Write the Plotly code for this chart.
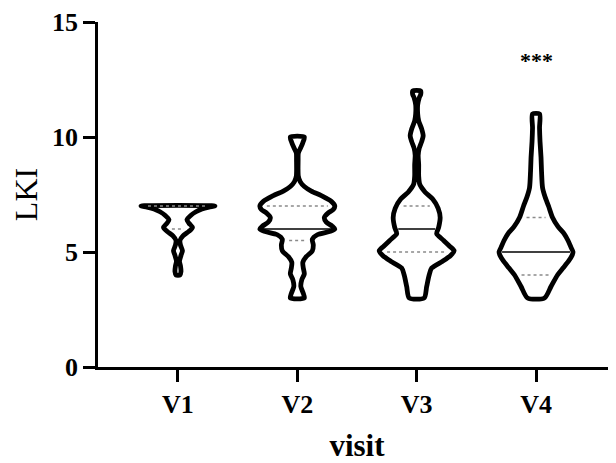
import numpy as np
import plotly.graph_objects as go

# ---------------- data ----------------
visits = ["V1", "V2", "V3", "V4"]

# violin outlines: LKI level and relative density (half-width)
v1_levels = [4.0, 4.15, 4.4, 4.6, 4.85, 5.05, 5.3, 5.5, 5.7, 5.9, 6.07, 6.25, 6.4, 6.6, 6.75, 6.87, 6.95, 7.0]
v1_density = [2, 3, 2.5, 1.5, 3, 4.5, 2.5, 2, 5, 11, 14.5, 11, 9, 13, 18, 24, 31, 37]

v2_levels = [3.0, 3.2, 3.5, 3.8, 4.05, 4.3, 4.55, 4.8, 5.05, 5.3, 5.55, 5.75, 5.9, 6.0, 6.12, 6.3, 6.5,
             6.7, 6.85, 7.0, 7.2, 7.45, 7.65, 7.85, 8.05, 8.3, 9.0, 9.3, 9.5, 9.75, 10.0]
v2_density = [7, 6, 3.5, 4.5, 7, 6, 5.5, 9, 15, 16, 15, 20, 33, 37.5, 35, 29, 27,
              31, 36, 37.5, 34, 24, 14, 7, 3, 1, 0.8, 1, 3, 5.5, 7]

v3_levels = [3.0, 3.5, 4.0, 4.3, 4.6, 4.85, 5.05, 5.25, 5.5, 5.8, 6.07, 6.5, 6.9, 7.3, 7.6, 7.95,
             8.3, 8.8, 9.2, 9.5, 9.8, 10.05, 10.35, 10.7, 11.0, 11.4, 11.7, 11.85, 12.0]
v3_density = [7.5, 10, 12.5, 15, 26, 34, 37.5, 33, 27, 20, 22, 23.5, 21.5, 16, 8.5, 3,
              2, 2, 1.5, 2.5, 5, 6.5, 5, 2, 1, 1, 2.5, 4, 4]

v4_levels = [3.0, 3.5, 4.0, 4.3, 4.6, 4.85, 5.0, 5.2, 5.5, 5.8, 6.1, 6.5, 7.0, 7.4, 7.8, 8.5,
             9.1, 9.8, 10.4, 11.0]
v4_density = [8.5, 15, 21.5, 27, 32.5, 36, 37, 35, 32, 28, 22, 16.5, 12.5, 9, 6.5, 5.5,
              5, 4, 3.5, 3.5]

medians = [7, 6, 6, 5]
quartile_low = [6, 5.5, 5, 4]
quartile_high = [7, 7, 7, 6.5]

y_tickvals = [0, 5, 10, 15]
significance = ["", "", "", "***"]
significance_y = 13.5

# ---------------- figure ----------------
levels_all = [v1_levels, v2_levels, v3_levels, v4_levels]
density_all = [v1_density, v2_density, v3_density, v4_density]
dens_max = max(max(d) for d in density_all)
HALF = 0.314  # max half-width in category units
PX = 1.0 / 119.4  # one pixel in category units

fig = go.Figure()
FONT = "Liberation Serif, Times New Roman, serif"

for i, (lv, dn) in enumerate(zip(levels_all, density_all)):
    lv = np.array(lv, float)
    hw = np.array(dn, float) / dens_max * HALF
    xs = np.concatenate([i + hw, (i - hw)[::-1], [i + hw[0]]])
    ys = np.concatenate([lv, lv[::-1], [lv[0]]])
    fig.add_trace(go.Scatter(x=xs, y=ys, mode="lines", fill="toself", fillcolor="white",
                             line=dict(color="black", width=4.8, shape="spline", smoothing=0.7),
                             hoverinfo="skip", showlegend=False))
    # median
    wm = float(np.interp(medians[i], lv, hw)) - 3 * PX
    fig.add_trace(go.Scatter(x=[i - wm, i + wm], y=[medians[i]] * 2, mode="lines",
                             line=dict(color="black", width=1.5), hoverinfo="skip", showlegend=False))
    for q in (quartile_low[i], quartile_high[i]):
        wq = float(np.interp(q, lv, hw)) - 7 * PX
        if wq > 0:
            fig.add_trace(go.Scatter(x=[i - wq, i + wq], y=[q, q], mode="lines",
                                     line=dict(color="#8a8a8a", width=1.6, dash="dot"),
                                     hoverinfo="skip", showlegend=False))
    if significance[i]:
        fig.add_annotation(x=i, y=significance_y, text=significance[i], showarrow=False,
                           font=dict(family=FONT, size=22, color="black", weight="bold"),
                           yanchor="middle", yshift=-4)

# the page body adds an 8px offset, so the figure is sized to fit the window
fig.update_layout(
    width=608, height=455,
    margin=dict(l=90, r=0, t=12, b=96),
    paper_bgcolor="white", plot_bgcolor="white",
    showlegend=False,
    font=dict(family=FONT, color="black"),
)
fig.update_xaxes(
    range=[-0.67, 3.67], tickmode="array", tickvals=list(range(len(visits))), ticktext=visits,
    showline=True, linecolor="black", linewidth=2.5, mirror=False,
    ticks="outside", ticklen=12, tickwidth=2.5, tickcolor="black",
    showgrid=False, zeroline=False,
    tickfont=dict(family=FONT, size=26, color="black", weight="bold"),
    title=dict(text="visit", font=dict(family=FONT, size=31, color="black", weight="bold"), standoff=18),
)
fig.update_yaxes(
    range=[0, 15], tickmode="array", tickvals=y_tickvals,
    showline=True, linecolor="black", linewidth=2.5,
    ticks="outside", ticklen=12, tickwidth=2.5, tickcolor="black",
    showgrid=False, zeroline=False, ticklabeloverflow="allow",
    tickfont=dict(family=FONT, size=26, color="black", weight="bold"),
    title=dict(text="LKI", font=dict(family=FONT, size=32, color="black"), standoff=12),
)

fig.write_html("out.html")
